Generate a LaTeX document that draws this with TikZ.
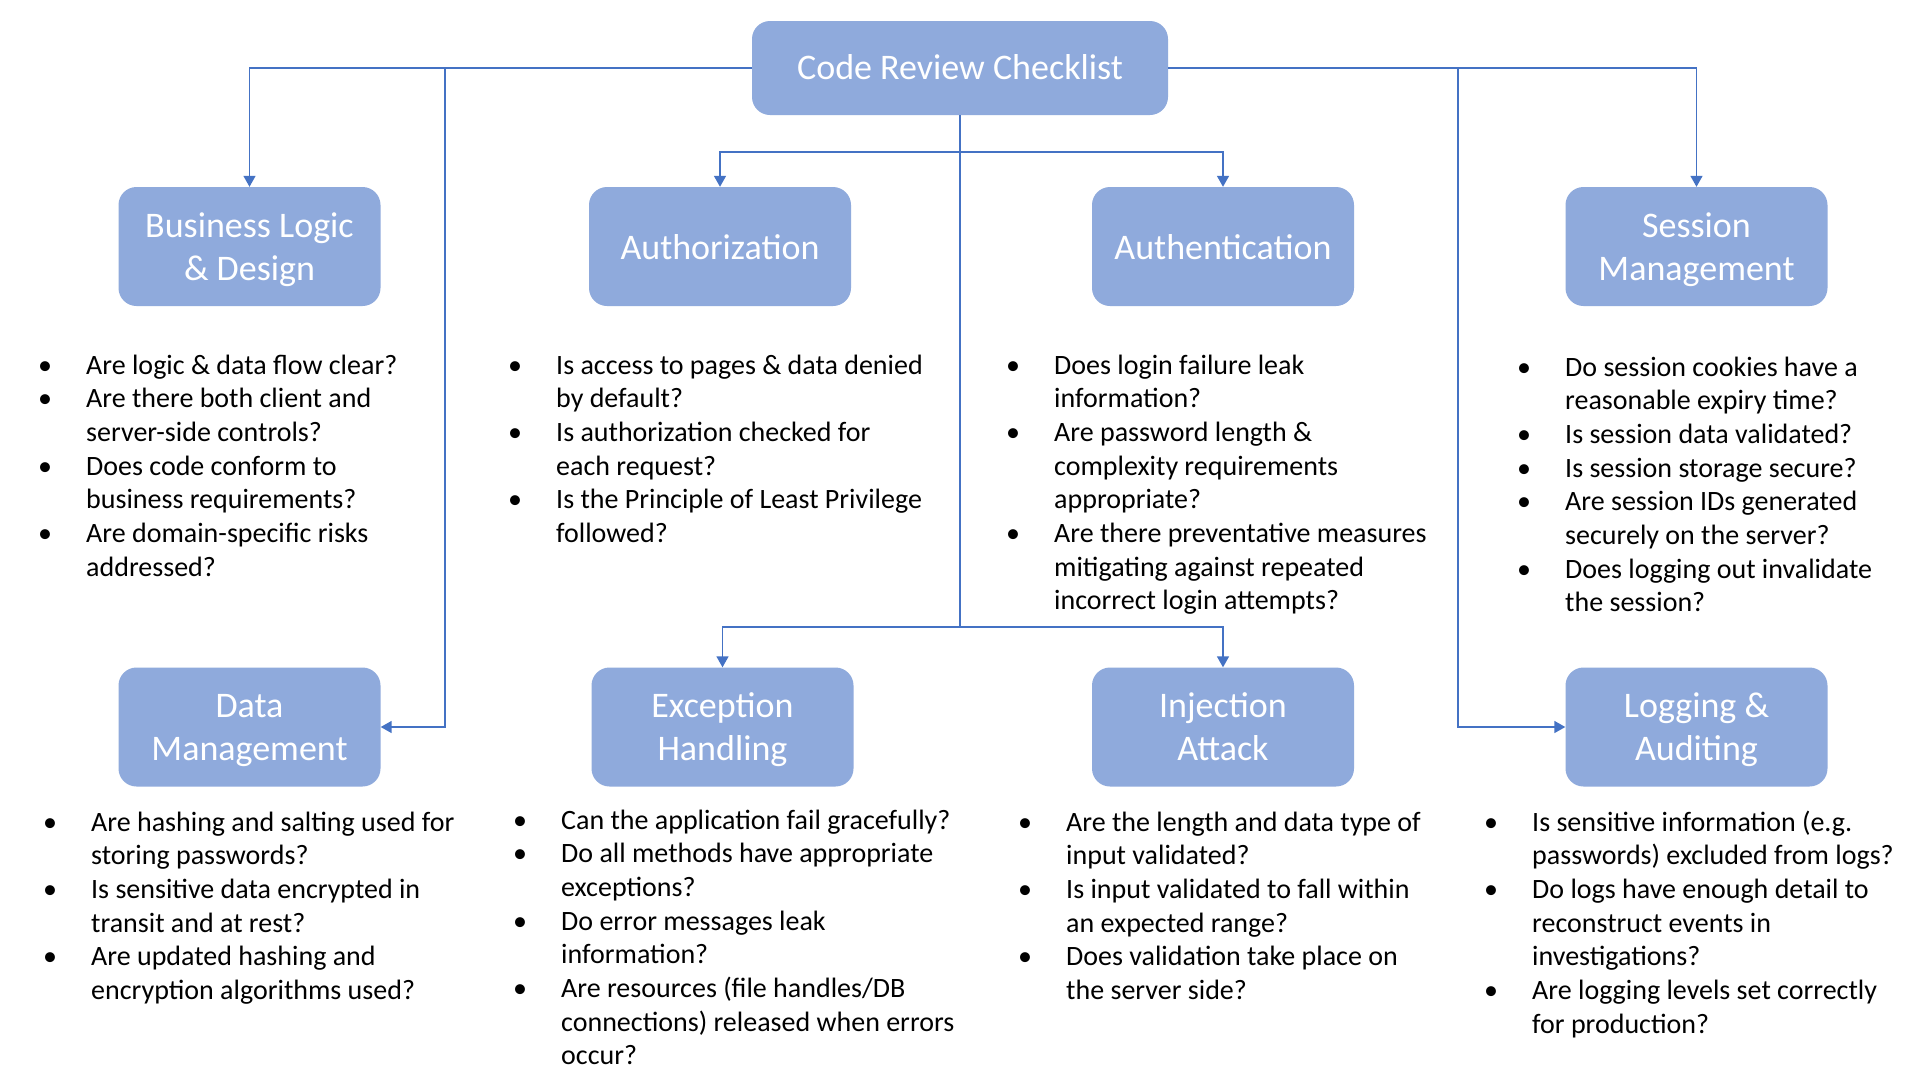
\documentclass[tikz,border=0pt]{standalone}
\usepackage{fontspec}
\setmainfont{Carlito}
\usetikzlibrary{arrows.meta}
\definecolor{boxfill}{HTML}{8FAADC}
\definecolor{linecol}{HTML}{4472C4}
\newcommand\bu{\makebox[41pt][l]{\makebox[0pt]{\textbullet}}}
\tikzset{
  catbox/.style={rectangle, rounded corners=18pt, fill=boxfill, text=white, align=center,
    inner sep=0pt, minimum width=262pt, minimum height=119pt,
    font=\fontsize{36}{43}\selectfont},
  conn/.style={draw=linecol, line width=1.5pt},
  arr/.style={conn, -{Triangle[length=11pt,width=12pt]}},
  qlist/.style={anchor=base west, inner sep=0pt, font=\fontsize{28}{33.7}\selectfont}
}
% #1: raise of the first baseline above the box centre
\newcommand\lbl[2]{\raisebox{#1}[0pt][0pt]{\begin{tabular}[t]{@{}c@{}}#2\end{tabular}}}
\begin{document}
\begin{tikzpicture}[x=1pt,y=-1pt]
\useasboundingbox (0,0) rectangle (1920,1080);
\fill[white] (0,0) rectangle (1920,1080);

% boxes
\node[catbox, minimum width=416pt, minimum height=94pt] (crc) at (960,68) {\lbl{-11pt}{Code Review Checklist}};
\node[catbox] (bl) at (249.5,246.5) {\lbl{9.5pt}{Business Logic\\\& Design}};
\node[catbox] (az) at (720,246.5) {\lbl{-13pt}{Authorization}};
\node[catbox] (an) at (1223,246.5) {\lbl{-13pt}{Authentication}};
\node[catbox] (sm) at (1696.5,246.5) {\lbl{9.5pt}{Session\\Management}};
\node[catbox] (dm) at (249.5,727) {\lbl{9.5pt}{Data\\Management}};
\node[catbox] (eh) at (722.5,727) {\lbl{9.5pt}{Exception\\Handling}};
\node[catbox] (ia) at (1223,727) {\lbl{9.5pt}{Injection\\Attack}};
\node[catbox] (la) at (1696.5,727) {\lbl{9.5pt}{Logging \&\\Auditing}};

% junctions
\coordinate (cl) at (445,68);
\coordinate (cr) at (1458,68);
\coordinate (ja) at (960,152);
\coordinate (jb) at (960,627);

% connectors
\draw[arr] (crc.west) -| (bl.north);
\draw[arr] (cl) |- (dm.east);
\draw[arr] (crc.east) -| (sm.north);
\draw[arr] (cr) |- (la.west);
\draw[conn] (crc.south) -- (jb);
\draw[arr] (ja) -| (az.north);
\draw[arr] (ja) -| (an.north);
\draw[arr] (jb) -| (eh.north);
\draw[arr] (jb) -| (ia.north);

% lists
\node[qlist] (lbl) at (45,374) {\begin{tabular}[t]{@{}l@{}l@{}}
\bu & Are logic \& data flow clear?\\
\bu & Are there both client and\\
 & server-side controls?\\
\bu & Does code conform to\\
 & business requirements?\\
\bu & Are domain-specific risks\\
 & addressed?
\end{tabular}};

\node[qlist] (laz) at (515,374) {\begin{tabular}[t]{@{}l@{}l@{}}
\bu & Is access to pages \& data denied\\
 & by default?\\
\bu & Is authorization checked for\\
 & each request?\\
\bu & Is the Principle of Least Privilege\\
 & followed?
\end{tabular}};

\node[qlist] (lan) at (1013,374) {\begin{tabular}[t]{@{}l@{}l@{}}
\bu & Does login failure leak\\
 & information?\\
\bu & Are password length \&\\
 & complexity requirements\\
 & appropriate?\\
\bu & Are there preventative measures\\
 & mitigating against repeated\\
 & incorrect login attempts?
\end{tabular}};

\node[qlist] (lsm) at (1524,376) {\begin{tabular}[t]{@{}l@{}l@{}}
\bu & Do session cookies have a\\
 & reasonable expiry time?\\
\bu & Is session data validated?\\
\bu & Is session storage secure?\\
\bu & Are session IDs generated\\
 & securely on the server?\\
\bu & Does logging out invalidate\\
 & the session?
\end{tabular}};

\node[qlist] (ldm) at (50,831) {\begin{tabular}[t]{@{}l@{}l@{}}
\bu & Are hashing and salting used for\\
 & storing passwords?\\
\bu & Is sensitive data encrypted in\\
 & transit and at rest?\\
\bu & Are updated hashing and\\
 & encryption algorithms used?
\end{tabular}};

\node[qlist] (leh) at (520,829) {\begin{tabular}[t]{@{}l@{}l@{}}
\bu & Can the application fail gracefully?\\
\bu & Do all methods have appropriate\\
 & exceptions?\\
\bu & Do error messages leak\\
 & information?\\
\bu & Are resources (file handles/DB\\
 & connections) released when errors\\
 & occur?
\end{tabular}};

\node[qlist] (lia) at (1025,831) {\begin{tabular}[t]{@{}l@{}l@{}}
\bu & Are the length and data type of\\
 & input validated?\\
\bu & Is input validated to fall within\\
 & an expected range?\\
\bu & Does validation take place on\\
 & the server side?
\end{tabular}};

\node[qlist] (lla) at (1491,831) {\begin{tabular}[t]{@{}l@{}l@{}}
\bu & Is sensitive information (e.g.\\
 & passwords) excluded from logs?\\
\bu & Do logs have enough detail to\\
 & reconstruct events in\\
 & investigations?\\
\bu & Are logging levels set correctly\\
 & for production?
\end{tabular}};
\end{tikzpicture}
\end{document}
